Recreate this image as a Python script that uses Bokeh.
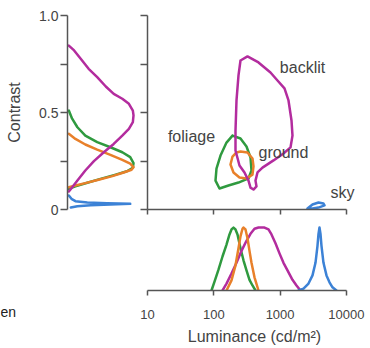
from bokeh.plotting import figure
from bokeh.layouts import column, row
from bokeh.models import Range1d, FixedTicker, Label
from bokeh.embed import file_html
from bokeh.resources import INLINE

# ---------------- data ----------------
# Left marginal: contrast distributions (density normalised to peak = 1)
left_magenta_density = [0.02, 0.10, 0.20, 0.32, 0.45, 0.58, 0.70, 0.83, 0.93, 0.99, 1.0, 0.99, 0.93, 0.83, 0.70, 0.55, 0.40, 0.27, 0.15, 0.06, 0.02]
left_magenta_contrast = [0.845, 0.820, 0.777, 0.725, 0.682, 0.634, 0.596, 0.571, 0.545, 0.510, 0.485, 0.450, 0.416, 0.381, 0.338, 0.295, 0.249, 0.201, 0.149, 0.110, 0.093]
left_green_density = [0.02, 0.07, 0.15, 0.27, 0.45, 0.65, 0.83, 0.95, 1.0, 0.99, 0.90, 0.73, 0.50, 0.30, 0.12, 0.02]
left_green_contrast = [0.510, 0.468, 0.424, 0.381, 0.347, 0.321, 0.295, 0.270, 0.239, 0.215, 0.197, 0.180, 0.158, 0.138, 0.119, 0.107]
left_orange_density = [0.02, 0.12, 0.27, 0.45, 0.65, 0.83, 0.95, 1.0, 0.97, 0.85, 0.68, 0.47, 0.27, 0.12, 0.02]
left_orange_contrast = [0.390, 0.364, 0.335, 0.309, 0.282, 0.256, 0.236, 0.218, 0.205, 0.191, 0.172, 0.153, 0.136, 0.124, 0.115]
left_blue_density = [0.02, 0.06, 0.12, 0.30, 0.60, 0.95, 0.65, 0.35, 0.15, 0.05]
left_blue_contrast = [0.072, 0.055, 0.043, 0.036, 0.032, 0.029, 0.026, 0.022, 0.017, 0.010]

# Bottom marginal: luminance distributions (cd/m^2, density normalised to peak = 1)
bot_green_lum = [92.3, 102.5, 117.7, 135.3, 155.5, 172.5, 184.9, 198.2, 212.5, 227.8, 252.7, 280.5, 311.3, 345.5, 383.4, 425.6]
bot_green_density = [0, 0.14, 0.33, 0.54, 0.73, 0.89, 0.97, 1.0, 0.97, 0.89, 0.67, 0.48, 0.32, 0.17, 0.08, 0]
bot_orange_lum = [155.5, 184.9, 212.5, 235.8, 252.7, 271.0, 280.5, 300.7, 322.3, 345.5, 370.3, 411.1, 472.3]
bot_orange_density = [0, 0.16, 0.40, 0.67, 0.86, 0.98, 1.0, 0.97, 0.83, 0.63, 0.44, 0.21, 0]
bot_magenta_lum = [135.3, 155.5, 184.9, 220.0, 261.7, 311.3, 357.7, 411.1, 472.3, 581.7, 668.3, 741.7, 852.1, 979.3, 1125, 1293, 1538, 1768, 2031]
bot_magenta_density = [0, 0.11, 0.27, 0.44, 0.63, 0.79, 0.90, 0.98, 1.0, 1.0, 0.97, 0.89, 0.75, 0.59, 0.44, 0.32, 0.17, 0.08, 0]
bot_blue_lum = [1895, 2254, 2682, 3082, 3419, 3665, 3795, 3929, 4068, 4211, 4513, 5010, 5560, 6171, 7089]
bot_blue_density = [0, 0.03, 0.11, 0.24, 0.44, 0.71, 0.90, 1.0, 0.90, 0.71, 0.44, 0.24, 0.13, 0.05, 0]

# Main panel: joint-distribution contours (luminance, contrast)
backlit_lum = [252.7, 322.3, 472.3, 716.4, 913.8, 1165, 1339, 1486, 1538, 1435, 1125, 795.3, 542.7, 456.1, 425.6, 440.6, 397.0, 357.7, 333.7, 290.4, 244.1, 212.5, 212.5, 220.0, 235.8, 252.7]
backlit_con = [0.768, 0.789, 0.758, 0.706, 0.665, 0.624, 0.562, 0.459, 0.381, 0.320, 0.289, 0.253, 0.216, 0.191, 0.149, 0.119, 0.103, 0.113, 0.149, 0.191, 0.227, 0.304, 0.407, 0.562, 0.691, 0.768]
foliage_lum = [191.5, 252.7, 311.3, 357.7, 370.3, 333.7, 235.8, 166.6, 121.9, 106.1, 109.8, 126.2, 155.5, 191.5]
foliage_con = [0.381, 0.366, 0.325, 0.268, 0.201, 0.160, 0.139, 0.124, 0.108, 0.149, 0.211, 0.278, 0.345, 0.381]
ground_lum = [252.7, 322.3, 383.4, 397.0, 383.4, 311.3, 244.1, 198.2, 178.6, 191.5, 220.0, 252.7]
ground_con = [0.299, 0.294, 0.263, 0.222, 0.180, 0.160, 0.165, 0.191, 0.232, 0.273, 0.294, 0.299]
sky_lum = [2590, 3082, 3795, 4513, 4674, 3795, 3082, 2590]
sky_con = [0.005, 0.026, 0.036, 0.031, 0.021, 0.010, 0.005, 0.005]

labels = ["backlit", "foliage", "ground", "sky"]
label_lum = [2178, 46.1, 1125, 8730]
label_con = [0.732, 0.376, 0.294, 0.088]

contrast_ticks = [0, 0.25, 0.5, 0.75, 1.0]
contrast_tick_labels = {0: "0", 0.25: "", 0.5: "0.5", 0.75: "", 1: "1.0"}
lum_ticks = [10, 100, 1000, 10000]
lum_tick_labels = {10: "10", 100: "100", 1000: "1000", 10000: "10000"}

MAGENTA = "#b32c9e"
GREEN = "#2f9a3f"
ORANGE = "#e8802a"
BLUE = "#3c82d6"
AXIS = "#555555"
TEXT = "#444444"
FONT = "Liberation Sans"
LW = 2.5

shared_y = Range1d(0, 1.0)
shared_x = Range1d(10, 16900)   # frame runs a little past 10000 so "sky" is not clipped


def style_common(p):
    p.outline_line_color = None
    p.grid.grid_line_color = None
    p.background_fill_color = "white"
    p.border_fill_color = "white"


def style_axis(ax, tick_out):
    ax.axis_line_color = AXIS
    ax.axis_line_width = 1.5
    ax.major_tick_line_color = AXIS
    ax.major_tick_line_width = 1.5
    ax.major_tick_in = 0
    ax.major_tick_out = tick_out
    ax.minor_tick_line_color = None
    ax.major_label_text_font = FONT
    ax.major_label_text_color = TEXT
    ax.axis_label_text_font = FONT
    ax.axis_label_text_color = TEXT
    ax.axis_label_text_font_style = "normal"


def hide_labels(ax):
    ax.major_label_text_color = None
    ax.major_label_text_font_size = "1px"
    ax.major_label_standoff = 0


# ---------------- left marginal ----------------
left = figure(width=135, height=218, x_range=Range1d(0, 1.03), y_range=shared_y,
              x_axis_location=None, output_backend="svg", toolbar_location=None,
              min_border_left=67, min_border_right=0, min_border_top=15, min_border_bottom=9)
style_common(left)
ya = left.yaxis[0]
style_axis(ya, 7)
ya.ticker = FixedTicker(ticks=contrast_ticks)
ya.major_label_overrides = contrast_tick_labels
ya.major_label_text_font_size = "14px"
ya.major_label_standoff = 2
ya.axis_label = "Contrast"
ya.axis_label_text_font_size = "16px"
ya.axis_label_standoff = 13
for dx, cy, col in [(left_green_density, left_green_contrast, GREEN),
                    (left_orange_density, left_orange_contrast, ORANGE),
                    (left_magenta_density, left_magenta_contrast, MAGENTA),
                    (left_blue_density, left_blue_contrast, BLUE)]:
    left.line(dx, cy, line_color=col, line_width=LW, line_join="round", line_cap="round")

# ---------------- main panel ----------------
main = figure(width=235, height=218, x_axis_type="log", x_range=shared_x, y_range=shared_y,
              output_backend="svg", toolbar_location=None,
              min_border_left=12, min_border_right=9, min_border_top=15, min_border_bottom=9)
style_common(main)
my = main.yaxis[0]
style_axis(my, 7)
my.ticker = FixedTicker(ticks=contrast_ticks)
hide_labels(my)
mx = main.xaxis[0]
style_axis(mx, 5)
mx.ticker = FixedTicker(ticks=lum_ticks, minor_ticks=[])
mx.bounds = (10, 10000)
hide_labels(mx)
for lx, cy, col in [(foliage_lum, foliage_con, GREEN),
                    (ground_lum, ground_con, ORANGE),
                    (backlit_lum, backlit_con, MAGENTA),
                    (sky_lum, sky_con, BLUE)]:
    main.line(lx, cy, line_color=col, line_width=LW, line_join="round", line_cap="round")
for t, lx, cy in zip(labels, label_lum, label_con):
    main.add_layout(Label(x=lx, y=cy, text=t, text_font=FONT, text_font_size="16px",
                          text_color=TEXT, text_align="center", text_baseline="middle"))

# ---------------- spacer with clipped caption ----------------
spacer = figure(width=135, height=130, x_range=Range1d(0, 135), y_range=Range1d(0, 130),
                x_axis_location=None, y_axis_location=None,
                output_backend="svg", toolbar_location=None, min_border=0,
                min_border_left=0, min_border_right=0, min_border_top=0, min_border_bottom=0)
style_common(spacer)
spacer.frame_align = False
spacer.add_layout(Label(x=0, y=37, text="en", text_font=FONT, text_font_size="14px",
                        text_color="#222222", text_align="left", text_baseline="alphabetic"))

# ---------------- bottom marginal ----------------
bottom = figure(width=235, height=130, x_axis_type="log", x_range=shared_x, y_range=Range1d(0, 1.08),
                y_axis_location=None, output_backend="svg", toolbar_location=None,
                min_border_left=12, min_border_right=9, min_border_top=4, min_border_bottom=58)
style_common(bottom)
bottom.frame_align = False
bx = bottom.xaxis[0]
style_axis(bx, 5)
bx.ticker = FixedTicker(ticks=lum_ticks, minor_ticks=[])
bx.bounds = (10, 10000)
bx.major_label_overrides = lum_tick_labels
bx.major_label_text_font_size = "13px"
bx.major_label_standoff = 14
bx.axis_label = "Luminance (cd/m²)"
bx.axis_label_text_font_size = "16px"
bx.axis_label_standoff = 6
for lx, dy, col in [(bot_green_lum, bot_green_density, GREEN),
                    (bot_magenta_lum, bot_magenta_density, MAGENTA),
                    (bot_orange_lum, bot_orange_density, ORANGE),
                    (bot_blue_lum, bot_blue_density, BLUE)]:
    bottom.line(lx, dy, line_color=col, line_width=LW, line_join="round", line_cap="round")

layout = column(row(left, main), row(spacer, bottom))
open("out.html", "w").write(file_html(layout, INLINE))
